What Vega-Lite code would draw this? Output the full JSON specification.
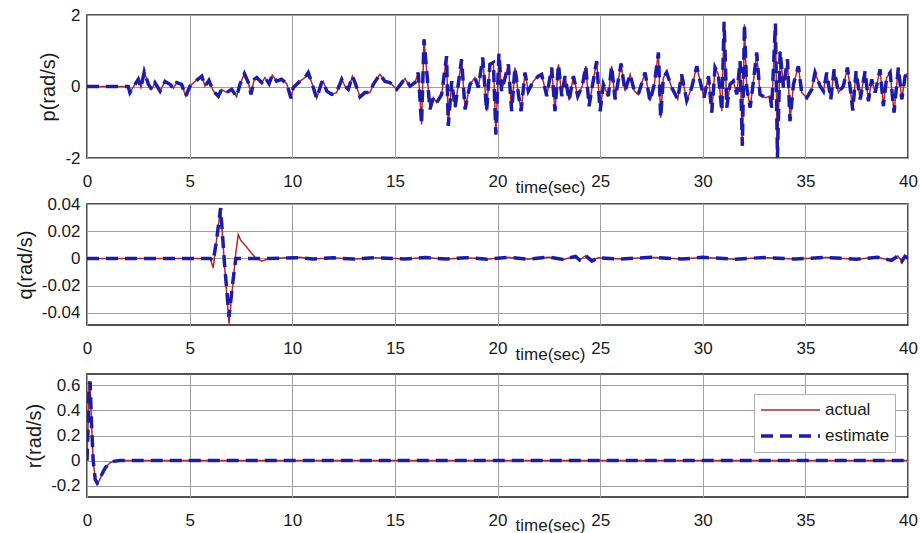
{
  "$schema": "https://vega.github.io/schema/vega-lite/v6.json",
  "background": "white",
  "padding": {"left": 14, "top": 5, "right": 0, "bottom": 0},
  "bounds": "flush",
  "spacing": 46,
  "datasets": {
    "p": [
      {"t":0,"actual":0,"estimate":0},{"t":2.01,"actual":0,"estimate":0},{"t":2.09,"actual":-0.17,"estimate":-0.17},{"t":2.34,"actual":0.06,"estimate":0.06},{"t":2.5,"actual":0.2,"estimate":0.2},{"t":2.63,"actual":-0.03,"estimate":-0.03},{"t":2.79,"actual":0.41,"estimate":0.41},{"t":2.99,"actual":0.06,"estimate":0.06},{"t":3.15,"actual":-0.08,"estimate":-0.08},{"t":3.31,"actual":0.11,"estimate":0.11},{"t":3.56,"actual":-0.13,"estimate":-0.13},{"t":3.8,"actual":0.14,"estimate":0.14},{"t":4.04,"actual":0.06,"estimate":0.06},{"t":4.21,"actual":-0.05,"estimate":-0.05},{"t":4.37,"actual":0.11,"estimate":0.11},{"t":4.61,"actual":0.06,"estimate":0.06},{"t":4.81,"actual":-0.27,"estimate":-0.27},{"t":5.02,"actual":0.01,"estimate":0.01},{"t":5.26,"actual":0.14,"estimate":0.14},{"t":5.59,"actual":0.29,"estimate":0.29},{"t":5.75,"actual":0.01,"estimate":0.01},{"t":5.94,"actual":0.17,"estimate":0.17},{"t":6.16,"actual":-0.13,"estimate":-0.13},{"t":6.4,"actual":-0.27,"estimate":-0.27},{"t":6.56,"actual":-0.08,"estimate":-0.08},{"t":6.8,"actual":-0.17,"estimate":-0.17},{"t":7.05,"actual":-0.08,"estimate":-0.08},{"t":7.29,"actual":-0.29,"estimate":-0.29},{"t":7.45,"actual":0.06,"estimate":0.06},{"t":7.67,"actual":0.36,"estimate":0.36},{"t":7.86,"actual":0.11,"estimate":0.11},{"t":7.99,"actual":-0.22,"estimate":-0.22},{"t":8.15,"actual":0.2,"estimate":0.2},{"t":8.27,"actual":0.25,"estimate":0.25},{"t":8.51,"actual":0.11,"estimate":0.11},{"t":8.67,"actual":0.25,"estimate":0.25},{"t":8.87,"actual":0.08,"estimate":0.08},{"t":9.03,"actual":0.32,"estimate":0.32},{"t":9.24,"actual":0.15,"estimate":0.15},{"t":9.48,"actual":0.2,"estimate":0.2},{"t":9.73,"actual":0.08,"estimate":0.08},{"t":9.94,"actual":-0.33,"estimate":-0.33},{"t":10.05,"actual":-0.03,"estimate":-0.03},{"t":10.38,"actual":0.15,"estimate":0.15},{"t":10.62,"actual":0.25,"estimate":0.25},{"t":10.78,"actual":0.39,"estimate":0.39},{"t":10.95,"actual":0.11,"estimate":0.11},{"t":11.19,"actual":-0.33,"estimate":-0.33},{"t":11.43,"actual":0.11,"estimate":0.11},{"t":11.51,"actual":0.15,"estimate":0.15},{"t":11.68,"actual":-0.13,"estimate":-0.13},{"t":11.92,"actual":-0.22,"estimate":-0.22},{"t":12.16,"actual":-0.17,"estimate":-0.17},{"t":12.41,"actual":0.2,"estimate":0.2},{"t":12.57,"actual":0.01,"estimate":0.01},{"t":12.73,"actual":-0.08,"estimate":-0.08},{"t":12.93,"actual":0.29,"estimate":0.29},{"t":13.06,"actual":0.11,"estimate":0.11},{"t":13.3,"actual":-0.29,"estimate":-0.29},{"t":13.54,"actual":-0.17,"estimate":-0.17},{"t":13.79,"actual":-0.17,"estimate":-0.17},{"t":13.95,"actual":0.06,"estimate":0.06},{"t":14.27,"actual":0.34,"estimate":0.34},{"t":14.52,"actual":0.14,"estimate":0.14},{"t":14.76,"actual":0.11,"estimate":0.11},{"t":15.09,"actual":-0.08,"estimate":-0.08},{"t":15.49,"actual":0.22,"estimate":0.22},{"t":15.74,"actual":0.01,"estimate":0.01},{"t":15.98,"actual":0.11,"estimate":0.11},{"t":16.14,"actual":0.39,"estimate":0.39},{"t":16.3,"actual":-1.06,"estimate":-1.06},{"t":16.42,"actual":1.32,"estimate":1.32},{"t":16.55,"actual":0.43,"estimate":0.43},{"t":16.71,"actual":-0.64,"estimate":-0.64},{"t":16.87,"actual":-0.31,"estimate":-0.31},{"t":17.04,"actual":-0.45,"estimate":-0.45},{"t":17.28,"actual":-0.22,"estimate":-0.22},{"t":17.52,"actual":0.85,"estimate":0.85},{"t":17.6,"actual":-1.1,"estimate":-1.1},{"t":17.77,"actual":0.15,"estimate":0.15},{"t":17.93,"actual":-0.59,"estimate":-0.59},{"t":18.09,"actual":0.06,"estimate":0.06},{"t":18.25,"actual":0.76,"estimate":0.76},{"t":18.42,"actual":-0.64,"estimate":-0.64},{"t":18.66,"actual":0.06,"estimate":0.06},{"t":18.9,"actual":0.25,"estimate":0.25},{"t":19.07,"actual":-0.03,"estimate":-0.03},{"t":19.28,"actual":0.81,"estimate":0.81},{"t":19.47,"actual":-0.69,"estimate":-0.69},{"t":19.63,"actual":0.62,"estimate":0.62},{"t":19.8,"actual":0.67,"estimate":0.67},{"t":19.92,"actual":-1.34,"estimate":-1.34},{"t":20.07,"actual":0.92,"estimate":0.92},{"t":20.2,"actual":-0.13,"estimate":-0.13},{"t":20.37,"actual":0.25,"estimate":0.25},{"t":20.53,"actual":0.62,"estimate":0.62},{"t":20.69,"actual":-0.69,"estimate":-0.69},{"t":20.85,"actual":0.53,"estimate":0.53},{"t":21.02,"actual":-0.22,"estimate":-0.22},{"t":21.15,"actual":-0.69,"estimate":-0.69},{"t":21.34,"actual":0.39,"estimate":0.39},{"t":21.5,"actual":-0.13,"estimate":-0.13},{"t":21.75,"actual":0.15,"estimate":0.15},{"t":21.99,"actual":0.29,"estimate":0.29},{"t":22.15,"actual":0.34,"estimate":0.34},{"t":22.4,"actual":-0.27,"estimate":-0.27},{"t":22.64,"actual":0.53,"estimate":0.53},{"t":22.8,"actual":-0.69,"estimate":-0.69},{"t":22.97,"actual":0.62,"estimate":0.62},{"t":23.13,"actual":-0.27,"estimate":-0.27},{"t":23.29,"actual":0.29,"estimate":0.29},{"t":23.49,"actual":-0.39,"estimate":-0.39},{"t":23.7,"actual":0.29,"estimate":0.29},{"t":23.91,"actual":-0.27,"estimate":-0.27},{"t":24.13,"actual":0.01,"estimate":0.01},{"t":24.3,"actual":0.57,"estimate":0.57},{"t":24.46,"actual":-0.55,"estimate":-0.55},{"t":24.62,"actual":0.01,"estimate":0.01},{"t":24.83,"actual":0.71,"estimate":0.71},{"t":25.0,"actual":-0.69,"estimate":-0.69},{"t":25.16,"actual":0.06,"estimate":0.06},{"t":25.4,"actual":-0.27,"estimate":-0.27},{"t":25.56,"actual":0.57,"estimate":0.57},{"t":25.73,"actual":-0.36,"estimate":-0.36},{"t":26.02,"actual":0.64,"estimate":0.64},{"t":26.21,"actual":-0.13,"estimate":-0.13},{"t":26.46,"actual":0.34,"estimate":0.34},{"t":26.67,"actual":-0.13,"estimate":-0.13},{"t":26.86,"actual":-0.22,"estimate":-0.22},{"t":27.19,"actual":0.39,"estimate":0.39},{"t":27.43,"actual":-0.41,"estimate":-0.41},{"t":27.64,"actual":0.06,"estimate":0.06},{"t":27.84,"actual":0.95,"estimate":0.95},{"t":27.95,"actual":-0.87,"estimate":-0.87},{"t":28.08,"actual":0.25,"estimate":0.25},{"t":28.24,"actual":0.39,"estimate":0.39},{"t":28.49,"actual":-0.03,"estimate":-0.03},{"t":28.78,"actual":-0.36,"estimate":-0.36},{"t":28.97,"actual":0.34,"estimate":0.34},{"t":29.22,"actual":-0.39,"estimate":-0.39},{"t":29.46,"actual":-0.03,"estimate":-0.03},{"t":29.71,"actual":0.57,"estimate":0.57},{"t":29.87,"actual":0.15,"estimate":0.15},{"t":30.06,"actual":-0.31,"estimate":-0.31},{"t":30.28,"actual":0.29,"estimate":0.29},{"t":30.44,"actual":-0.73,"estimate":-0.73},{"t":30.6,"actual":0.53,"estimate":0.53},{"t":30.76,"actual":0.34,"estimate":0.34},{"t":30.93,"actual":-0.69,"estimate":-0.69},{"t":31.04,"actual":1.81,"estimate":1.81},{"t":31.17,"actual":-0.59,"estimate":-0.59},{"t":31.33,"actual":0.06,"estimate":0.06},{"t":31.49,"actual":0.15,"estimate":0.15},{"t":31.66,"actual":-0.22,"estimate":-0.22},{"t":31.82,"actual":0.71,"estimate":0.71},{"t":31.93,"actual":-1.66,"estimate":-1.66},{"t":32.03,"actual":1.74,"estimate":1.74},{"t":32.14,"actual":-0.03,"estimate":-0.03},{"t":32.31,"actual":-0.59,"estimate":-0.59},{"t":32.47,"actual":0.15,"estimate":0.15},{"t":32.63,"actual":0.95,"estimate":0.95},{"t":32.79,"actual":-0.22,"estimate":-0.22},{"t":33.04,"actual":-0.31,"estimate":-0.31},{"t":33.28,"actual":-0.27,"estimate":-0.27},{"t":33.36,"actual":-0.59,"estimate":-0.59},{"t":33.54,"actual":1.76,"estimate":1.76},{"t":33.64,"actual":-1.99,"estimate":-1.99},{"t":33.77,"actual":0.99,"estimate":0.99},{"t":33.93,"actual":-0.03,"estimate":-0.03},{"t":34.13,"actual":0.76,"estimate":0.76},{"t":34.25,"actual":-0.97,"estimate":-0.97},{"t":34.42,"actual":0.06,"estimate":0.06},{"t":34.66,"actual":0.57,"estimate":0.57},{"t":34.82,"actual":-0.17,"estimate":-0.17},{"t":35.07,"actual":-0.31,"estimate":-0.31},{"t":35.31,"actual":-0.08,"estimate":-0.08},{"t":35.47,"actual":0.39,"estimate":0.39},{"t":35.72,"actual":0.01,"estimate":0.01},{"t":35.88,"actual":-0.13,"estimate":-0.13},{"t":36.04,"actual":0.39,"estimate":0.39},{"t":36.24,"actual":-0.36,"estimate":-0.36},{"t":36.4,"actual":0.48,"estimate":0.48},{"t":36.61,"actual":-0.17,"estimate":-0.17},{"t":36.85,"actual":0.01,"estimate":0.01},{"t":37.05,"actual":0.53,"estimate":0.53},{"t":37.18,"actual":-0.03,"estimate":-0.03},{"t":37.31,"actual":-0.67,"estimate":-0.67},{"t":37.47,"actual":0.43,"estimate":0.43},{"t":37.67,"actual":-0.36,"estimate":-0.36},{"t":37.91,"actual":0.43,"estimate":0.43},{"t":38.07,"actual":-0.41,"estimate":-0.41},{"t":38.23,"actual":0.2,"estimate":0.2},{"t":38.4,"actual":-0.17,"estimate":-0.17},{"t":38.64,"actual":0.48,"estimate":0.48},{"t":38.8,"actual":-0.55,"estimate":-0.55},{"t":38.96,"actual":0.25,"estimate":0.25},{"t":39.13,"actual":0.39,"estimate":0.39},{"t":39.32,"actual":-0.73,"estimate":-0.73},{"t":39.53,"actual":0.53,"estimate":0.53},{"t":39.7,"actual":-0.36,"estimate":-0.36},{"t":39.86,"actual":0.29,"estimate":0.29},{"t":40,"actual":0.39,"estimate":0.39}
    ],
    "q": [
      {"t":0,"actual":0,"estimate":0},{"t":6.0,"actual":0,"estimate":0},{"t":6.15,"actual":-0.007,"estimate":-0.002},{"t":6.3,"actual":0.012,"estimate":0.012},{"t":6.51,"actual":0.037,"estimate":0.037},{"t":6.7,"actual":-0.005,"estimate":-0.004},{"t":6.92,"actual":-0.048,"estimate":-0.043},{"t":7.1,"actual":-0.02,"estimate":-0.018},{"t":7.25,"actual":0.004,"estimate":0},{"t":7.37,"actual":0.0175,"estimate":0},{"t":7.5,"actual":0.013,"estimate":0},{"t":7.77,"actual":0.0085,"estimate":0},{"t":8.0,"actual":0.004,"estimate":0},{"t":8.18,"actual":0.001,"estimate":0},{"t":8.5,"actual":-0.002,"estimate":0},{"t":8.9,"actual":0,"estimate":0},{"t":10.4,"actual":0.0008,"estimate":0.0005},{"t":11.0,"actual":-0.0005,"estimate":-0.0004},{"t":12.0,"actual":0.0004,"estimate":0.0004},{"t":13.0,"actual":-0.0006,"estimate":-0.0005},{"t":14.0,"actual":0.0005,"estimate":0.0005},{"t":15.5,"actual":-0.0004,"estimate":-0.0004},{"t":16.5,"actual":0.0006,"estimate":0.0006},{"t":17.5,"actual":-0.0005,"estimate":-0.0005},{"t":18.5,"actual":0.0005,"estimate":0.0005},{"t":19.5,"actual":-0.0006,"estimate":-0.0006},{"t":20.5,"actual":0.0008,"estimate":0.0008},{"t":21.5,"actual":-0.0006,"estimate":-0.0006},{"t":22.5,"actual":0.0009,"estimate":0.0009},{"t":23.2,"actual":-0.0008,"estimate":-0.0008},{"t":23.8,"actual":0.0015,"estimate":0.0015},{"t":24.0,"actual":-0.0012,"estimate":-0.0012},{"t":24.3,"actual":0.002,"estimate":0.002},{"t":24.6,"actual":-0.002,"estimate":-0.002},{"t":24.9,"actual":0.0005,"estimate":0.0005},{"t":26.0,"actual":-0.0005,"estimate":-0.0005},{"t":27.5,"actual":0.0008,"estimate":0.0008},{"t":29.0,"actual":-0.0005,"estimate":-0.0005},{"t":30.0,"actual":0.0008,"estimate":0.0008},{"t":31.5,"actual":-0.0006,"estimate":-0.0006},{"t":33.0,"actual":0.0006,"estimate":0.0006},{"t":34.5,"actual":-0.0005,"estimate":-0.0005},{"t":36.0,"actual":0.0007,"estimate":0.0007},{"t":37.5,"actual":-0.0006,"estimate":-0.0006},{"t":38.5,"actual":0.0008,"estimate":0.0008},{"t":39.2,"actual":-0.0015,"estimate":-0.0015},{"t":39.5,"actual":0.0018,"estimate":0.0018},{"t":39.7,"actual":-0.0022,"estimate":-0.0022},{"t":39.85,"actual":0.0015,"estimate":0.0015},{"t":40,"actual":0,"estimate":0}
    ],
    "r": [
      {"t":0,"actual":0,"estimate":0},{"t":0.05,"actual":0.28,"estimate":0.25},{"t":0.1,"actual":0.6,"estimate":0.6},{"t":0.15,"actual":0.63,"estimate":0.63},{"t":0.22,"actual":0.3,"estimate":0.3},{"t":0.3,"actual":0,"estimate":0},{"t":0.4,"actual":-0.15,"estimate":-0.15},{"t":0.5,"actual":-0.18,"estimate":-0.18},{"t":0.6,"actual":-0.16,"estimate":-0.16},{"t":0.75,"actual":-0.1,"estimate":-0.1},{"t":0.9,"actual":-0.055,"estimate":-0.055},{"t":1.1,"actual":-0.02,"estimate":-0.02},{"t":1.3,"actual":-0.006,"estimate":-0.006},{"t":1.6,"actual":0,"estimate":0},{"t":40,"actual":0,"estimate":0}
    ]
  },
  "resolve": {"scale": {"color": "independent", "strokeDash": "independent", "strokeWidth": "independent"}},
  "vconcat": [
    {
      "width": 821, "height": 143,
      "data": {"name": "p"},
      "transform": [{"fold": ["actual", "estimate"], "as": ["series", "val"]}],
      "mark": {"type": "line", "clip": true, "strokeCap": "butt"},
      "encoding": {
        "x": {"field": "t", "type": "quantitative", "scale": {"domain": [0, 40], "nice": false, "zero": false},
              "axis": {"values": [0,5,10,15,20,25,30,35,40], "title": "time(sec)", "titleX": 463, "titleY": 34, "titleBaseline": "alphabetic", "titleFontSize": 17, "labelPadding": 15, "labelFlush": false}},
        "y": {"field": "val", "type": "quantitative", "scale": {"domain": [-2, 2], "nice": false, "zero": false},
              "axis": {"values": [-2, 0, 2], "title": "p(rad/s)", "labelPadding": 7, "labelFlush": false, "labelExpr": "datum.value < 0 ? '-' + format(-datum.value, 'd') : format(datum.value, 'd')"}},
        "color": {"field": "series", "type": "nominal", "scale": {"domain": ["actual", "estimate"], "range": ["#b8252a", "#1c1ca8"]}, "legend": null},
        "strokeDash": {"field": "series", "type": "nominal", "scale": {"domain": ["actual", "estimate"], "range": [[1, 0], [12, 7]]}, "legend": null},
        "strokeWidth": {"field": "series", "type": "nominal", "scale": {"domain": ["actual", "estimate"], "range": [1.5, 3.5]}, "legend": null}
      }
    },
    {
      "bounds": "flush",
      "spacing": 49,
      "resolve": {"scale": {"color": "independent", "strokeDash": "independent", "strokeWidth": "independent"}},
      "vconcat": [
        {
          "width": 821, "height": 121,
          "data": {"name": "q"},
          "transform": [{"fold": ["actual", "estimate"], "as": ["series", "val"]}],
          "mark": {"type": "line", "clip": true, "strokeCap": "butt"},
          "encoding": {
            "x": {"field": "t", "type": "quantitative", "scale": {"domain": [0, 40], "nice": false, "zero": false},
                  "axis": {"values": [0,5,10,15,20,25,30,35,40], "title": "time(sec)", "titleX": 463, "titleY": 34, "titleBaseline": "alphabetic", "titleFontSize": 17, "labelPadding": 15, "labelFlush": false}},
            "y": {"field": "val", "type": "quantitative", "scale": {"domain": [-0.049, 0.04], "nice": false, "zero": false},
                  "axis": {"values": [-0.04, -0.02, 0, 0.02, 0.04], "title": "q(rad/s)", "labelPadding": 7, "labelFlush": false, "labelExpr": "datum.value == 0 ? '0' : (datum.value < 0 ? '-' + format(-datum.value, '.2f') : format(datum.value, '.2f'))"}},
            "color": {"field": "series", "type": "nominal", "scale": {"domain": ["actual", "estimate"], "range": ["#b8252a", "#1c1ca8"]}, "legend": null},
            "strokeDash": {"field": "series", "type": "nominal", "scale": {"domain": ["actual", "estimate"], "range": [[1, 0], [12, 7]]}, "legend": null},
            "strokeWidth": {"field": "series", "type": "nominal", "scale": {"domain": ["actual", "estimate"], "range": [1.5, 3.5]}, "legend": null}
          }
        },
        {
          "width": 821, "height": 123,
          "data": {"name": "r"},
          "transform": [{"fold": ["actual", "estimate"], "as": ["series", "val"]}],
          "mark": {"type": "line", "clip": true, "strokeCap": "butt"},
          "encoding": {
            "x": {"field": "t", "type": "quantitative", "scale": {"domain": [0, 40], "nice": false, "zero": false},
                  "axis": {"values": [0,5,10,15,20,25,30,35,40], "title": "time(sec)", "titleX": 463, "titleY": 33, "titleBaseline": "alphabetic", "titleFontSize": 17, "labelPadding": 15, "labelFlush": false}},
            "y": {"field": "val", "type": "quantitative", "scale": {"domain": [-0.29, 0.69], "nice": false, "zero": false},
                  "axis": {"values": [-0.2, 0, 0.2, 0.4, 0.6], "title": "r(rad/s)", "labelPadding": 7, "labelFlush": false, "labelExpr": "datum.value == 0 ? '0' : (datum.value < 0 ? '-' + format(-datum.value, '.1f') : format(datum.value, '.1f'))"}},
            "color": {"field": "series", "type": "nominal", "scale": {"domain": ["actual", "estimate"], "range": ["#b8252a", "#1c1ca8"]}, "legend": {"title": null}},
            "strokeDash": {"field": "series", "type": "nominal", "scale": {"domain": ["actual", "estimate"], "range": [[1, 0], [12, 7]]}, "legend": {"title": null}},
            "strokeWidth": {"field": "series", "type": "nominal", "scale": {"domain": ["actual", "estimate"], "range": [1.5, 3.5]}, "legend": {"title": null}}
          }
        }
      ]
    }
  ],
  "config": {
    "font": "Liberation Sans",
    "view": {"stroke": "#1a1a1a", "strokeWidth": 1.5},
    "axis": {"grid": true, "gridColor": "#a0a0a0", "gridWidth": 1, "domain": false, "ticks": false, "labelFont": "Liberation Sans", "labelFontSize": 17, "labelColor": "#1a1a1a", "titleFont": "Liberation Sans", "titleFontSize": 20, "titleFontWeight": "normal", "titleColor": "#1a1a1a", "titlePadding": 6},
    "legend": {"orient": "none", "legendX": 667, "legendY": 20, "symbolType": "stroke", "symbolSize": 3481, "clipHeight": 22, "rowPadding": 4, "padding": 5, "labelOffset": 3, "labelFont": "Liberation Sans", "labelFontSize": 17, "labelColor": "#1a1a1a", "fillColor": "white", "strokeColor": "#b0b0b0", "cornerRadius": 0}
  }
}
